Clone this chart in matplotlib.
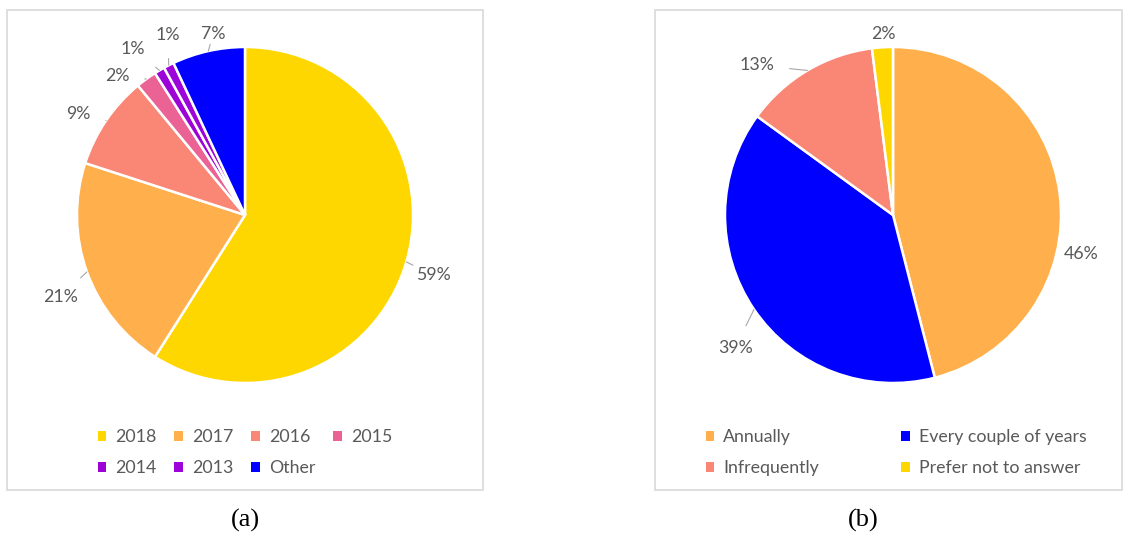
import numpy as np
import matplotlib.pyplot as plt
from matplotlib.patches import Patch, Rectangle

# (a) Jahr
years = ["2018", "2017", "2016", "2015", "2014", "2013", "Other"]
year_share = [59, 21, 9, 2, 1, 1, 7]
year_colors = ["#FFD700", "#FFB04D", "#FA8775", "#EA6394", "#9D02D7", "#9C04DA", "#0000FF"]

# (b) Häufigkeit
freq = ["Annually", "Every couple of years", "Infrequently", "Prefer not to answer"]
freq_share = [46, 39, 13, 2]
freq_colors = ["#FFB04D", "#0000FF", "#FA8775", "#FFD700"]

# Label-Positionen (in Radius-Einheiten) und ob eine Hilfslinie gezeichnet wird
lab_a = [(1.12, -0.36), (-1.10, -0.49), (-0.99, 0.60), (-0.76, 0.83),
         (-0.67, 0.99), (-0.46, 1.07), (-0.19, 1.08)]
line_a = [True, True, True, True, True, True, True]
lab_b = [(1.12, -0.23), (-0.94, -0.79), (-0.81, 0.89), (-0.06, 1.08)]
line_b = [False, True, True, False]

plt.rcParams["font.family"] = ["Lato", "DejaVu Sans"]
txt_col = "#595959"
fs = 12.8

fig = plt.figure(figsize=(11.26, 5.34), dpi=100)

# Rahmen der beiden Panels
for x0, x1 in [(7, 483), (655, 1122)]:
    fig.patches.append(Rectangle((x0 / 1126, 1 - 490 / 534), (x1 - x0) / 1126, 480 / 534,
                                 transform=fig.transFigure, fill=False,
                                 edgecolor="#D9D9D9", linewidth=1.2))

R = 168  # Radius in Pixel
half = 1.4


def draw_pie(cx, cy, values, colors, labpos, lines):
    w = 2 * half * R
    ax = fig.add_axes([(cx - w / 2) / 1126, (534 - cy - w / 2) / 534, w / 1126, w / 534])
    wedges, _ = ax.pie(values, colors=colors, startangle=90, counterclock=False,
                       wedgeprops=dict(edgecolor="white", linewidth=1.8))
    ax.set_xlim(-half, half)
    ax.set_ylim(-half, half)
    ax.set_aspect("equal")
    ax.axis("off")
    for wdg, v, pos, ln in zip(wedges, values, labpos, lines):
        th = np.deg2rad((wdg.theta1 + wdg.theta2) / 2)
        anchor = (np.cos(th), np.sin(th))
        if ln:
            ax.annotate(f"{v}%", xy=anchor, xytext=pos, ha="center", va="center",
                        fontsize=fs, color=txt_col,
                        arrowprops=dict(arrowstyle="-", color="#A6A6A6", lw=0.8,
                                        shrinkA=9, shrinkB=0))
        else:
            ax.text(pos[0], pos[1], f"{v}%", ha="center", va="center",
                    fontsize=fs, color=txt_col)
    return wedges


draw_pie(245, 215, year_share, year_colors, lab_a, line_a)
draw_pie(893, 215, freq_share, freq_colors, lab_b, line_b)

# Legenden
order_a = [0, 4, 1, 5, 2, 6, 3]
h_a = [Patch(facecolor=year_colors[i]) for i in order_a]
leg_a = fig.legend(h_a, [years[i] for i in order_a], ncol=4, loc="center",
                   bbox_to_anchor=(245 / 1126, 1 - 452.5 / 534), frameon=False,
                   fontsize=fs, labelcolor=txt_col, handlelength=0.5, handleheight=0.5,
                   handletextpad=0.5, columnspacing=1.0, labelspacing=0.85)

order_b = [0, 2, 1, 3]
h_b = [Patch(facecolor=freq_colors[i]) for i in order_b]
leg_b = fig.legend(h_b, [freq[i] for i in order_b], ncol=2, loc="center",
                   bbox_to_anchor=(896 / 1126, 1 - 452.5 / 534), frameon=False,
                   fontsize=fs, labelcolor=txt_col, handlelength=0.5, handleheight=0.5,
                   handletextpad=0.5, columnspacing=4.6, labelspacing=0.85)

# Untertitel
fig.text(245 / 1126, 1 - 520 / 534, "(a)", ha="center", va="center",
         family="Liberation Serif", fontsize=19)
fig.text(863 / 1126, 1 - 520 / 534, "(b)", ha="center", va="center",
         family="Liberation Serif", fontsize=19)

fig.savefig("out.png", dpi=100)
